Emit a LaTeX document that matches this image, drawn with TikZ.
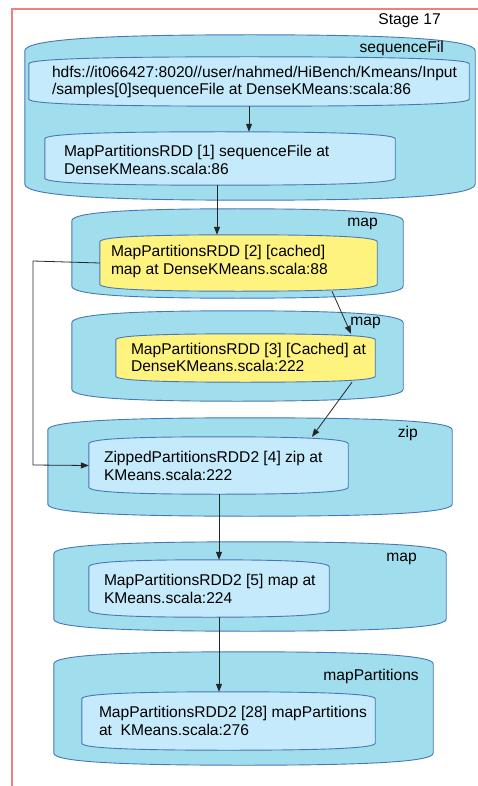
\documentclass[tikz,border=0pt]{standalone}
\usepackage{fontspec}
\setmainfont{Liberation Sans}
\usetikzlibrary{arrows.meta,calc}
\definecolor{outerfill}{RGB}{160,222,238}
\definecolor{edgeblue}{RGB}{72,118,182}
\definecolor{innerfill}{RGB}{197,234,252}
\definecolor{yellowfill}{RGB}{255,243,128}
\definecolor{framered}{RGB}{240,128,128}
\newcommand{\candraw}[3]{% node name, style, bulge (px)
  \path[#2] let \p1=(#1.north west), \p2=(#1.south east), \n1={0.5*(\x1+\x2)}, \n2={\x2-\x1} in
    (\x1,{\y1-#3pt}) .. controls (\x1,{\y1-0.2*#3pt}) and ({\x1+0.22*\n2},\y1) .. (\n1,\y1)
    .. controls ({\x2-0.22*\n2},\y1) and (\x2,{\y1-0.2*#3pt}) .. (\x2,{\y1-#3pt})
    -- (\x2,{\y2+#3pt})
    .. controls (\x2,{\y2+0.2*#3pt}) and ({\x2-0.22*\n2},\y2) .. (\n1,\y2)
    .. controls ({\x1+0.22*\n2},\y2) and (\x1,{\y2+0.2*#3pt}) .. (\x1,{\y2+#3pt}) -- cycle;}
\tikzset{
  box/.style={minimum width=#1, inner sep=0pt, draw=none},
  outerbox/.style={fill=outerfill, draw=edgeblue, line width=0.9pt},
  innerbox/.style={fill=innerfill, draw=edgeblue, line width=0.9pt},
  yellowbox/.style={fill=yellowfill, draw=edgeblue, line width=0.9pt},
  txt/.style={anchor=west, align=left, inner sep=0pt, font=\fontsize{15.6}{17.5}\selectfont},
  lbl/.style={anchor=east, inner sep=0pt, font=\fontsize{15.6}{17.5}\selectfont},
  conn/.style={draw=black!85, line width=0.8pt, -{Triangle[length=8pt,width=6pt]}}
}
\begin{document}
\begin{tikzpicture}[x=1pt,y=-1pt]
\useasboundingbox (0,0) rectangle (478,786);
% frame
\draw[framered, line width=1.2pt] (478,9) -- (12,9) -- (12,786);
\node[lbl] (stage) at (441,21) {Stage 17};
% boxes (centre, width, height)
\node[box=450pt, minimum height=165pt] (o1) at (250,117.5) {};
\node[box=440pt, minimum height=49pt]  (i1) at (249,81.5) {};
\node[box=350pt, minimum height=53pt]  (i2) at (220,158.5) {};
\node[box=331pt, minimum height=89pt]  (o2) at (237.5,253.5) {};
\node[box=277pt, minimum height=56pt]  (y1) at (238.5,263) {};
\node[box=331pt, minimum height=90pt]  (o3) at (237.5,356) {};
\node[box=259pt, minimum height=48pt]  (y2) at (245.5,358) {};
\node[box=404pt, minimum height=98pt]  (o4) at (250,467) {};
\node[box=259pt, minimum height=57pt]  (z4) at (218.5,465.5) {};
\node[box=392pt, minimum height=89pt]  (o5) at (250,586.5) {};
\node[box=240pt, minimum height=57pt]  (m5) at (209,588.5) {};
\node[box=379pt, minimum height=113pt] (o6) at (243.5,708.5) {};
\node[box=293pt, minimum height=58pt]  (m28) at (228.5,721) {};
% shapes
\candraw{o1}{outerbox}{16}
\candraw{i1}{innerbox}{7}
\candraw{i2}{innerbox}{7}
\candraw{o2}{outerbox}{12}
\candraw{y1}{yellowbox}{7}
\candraw{o3}{outerbox}{12}
\candraw{y2}{yellowbox}{6}
\candraw{o4}{outerbox}{12}
\candraw{z4}{innerbox}{7}
\candraw{o5}{outerbox}{12}
\candraw{m5}{innerbox}{7}
\candraw{o6}{outerbox}{12}
\candraw{m28}{innerbox}{7}
% group labels
\node[lbl] (l1) at (444,48) {sequenceFil};
\node[lbl] (l2) at (378,224) {map};
\node[lbl] (l3) at (381,323) {map};
\node[lbl] (l4) at (418,433) {zip};
\node[lbl] (l5) at (417,559) {map};
\node[lbl] (l6) at (419,676) {mapPartitions};
% texts
\node[txt] (t1) at ([xshift=23pt,yshift=-0.5pt]i1.west) {hdfs://it066427:8020//user/nahmed/HiBench/Kmeans/Input\\/samples[0]sequenceFile at DenseKMeans:scala:86};
\node[txt] (t2) at ([xshift=19pt,yshift=-1.5pt]i2.west) {MapPartitionsRDD [1] sequenceFile at\\DenseKMeans.scala:86};
\node[txt] (t3) at ([xshift=11pt,yshift=1.5pt]y1.west) {MapPartitionsRDD [2] [cached]\\map at DenseKMeans.scala:88};
\node[txt] (t4) at ([xshift=15pt,yshift=0.5pt]y2.west) {MapPartitionsRDD [3] [Cached] at\\DenseKMeans.scala:222};
\node[txt] (t5) at ([xshift=15pt,yshift=-0.5pt]z4.west) {ZippedPartitionsRDD2 [4] zip at\\KMeans.scala:222};
\node[txt] (t6) at ([xshift=15pt,yshift=-0.5pt]m5.west) {MapPartitionsRDD2 [5] map at\\KMeans.scala:224};
\node[txt] (t7) at ([xshift=17pt]m28.west) {MapPartitionsRDD2 [28] mapPartitions\\at\ \ KMeans.scala:276};
% connectors
\coordinate (bend1) at (33,261);
\coordinate (bend2) at (33,465);
\draw[conn] (i1.south) -- (i1.south |- i2.north);
\draw[conn] (i2.south -| 217,0) -- (y1.north -| 217,0);
\draw[conn] ([xshift=93.5pt]y1.south) -- ([xshift=105.5pt]y2.north);
\draw[conn] ([xshift=106.5pt]y2.south) -- ([xshift=93.5pt]z4.north);
\draw[conn] (y1.west) -- (bend1) -- (bend2) -- (z4.west);
\draw[conn] (z4.south -| 219,0) -- (m5.north -| 219,0);
\draw[conn] (m5.south -| 219,0) -- (m28.north -| 219,0);
\end{tikzpicture}
\end{document}
